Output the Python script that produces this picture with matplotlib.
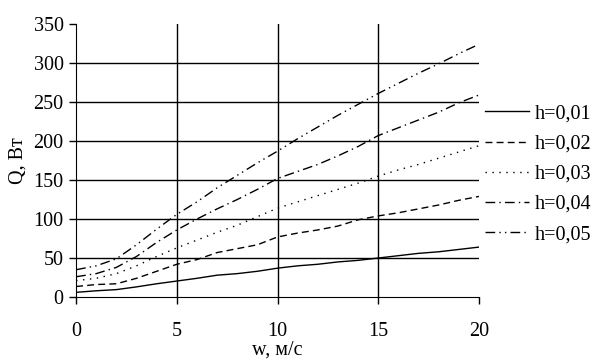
import matplotlib
matplotlib.use('Agg')
import matplotlib.pyplot as plt

# Data
w = list(range(0, 21))
q_001 = [6, 8, 9.5, 13, 17, 20.5, 24, 28, 30, 33, 37, 40, 42, 45, 47, 50, 53, 56, 58, 61, 64]
q_002 = [13.5, 16, 17, 24, 33, 42, 48, 57, 62, 67, 77, 82, 86, 91, 99, 104, 108, 113, 118, 124, 129]
q_003 = [21, 24, 30, 40, 52, 63, 73, 83, 92, 103, 114, 122, 130, 138, 146, 155, 163, 170, 178, 186, 194]
q_004 = [26, 30, 38, 52, 70, 86, 100, 113, 125, 138, 152, 161, 170, 181, 193, 207, 217, 227, 237, 249, 259]
q_005 = [35, 40, 49, 67, 87, 106, 122, 140, 156, 172, 187, 203, 218, 233, 247, 261, 274, 287, 299, 312, 324]
labels = ['h=0,01', 'h=0,02', 'h=0,03', 'h=0,04', 'h=0,05']

plt.rcParams['font.family'] = 'Liberation Serif'

fig = plt.figure(figsize=(6.04, 3.64), dpi=100)
ax = fig.add_axes([0.126, 0.184, 0.667, 0.750])

# grid lines (inner ticks only)
for yv in range(50, 350, 50):
    ax.axhline(yv, color='black', lw=1.0, zorder=1)
for xv in [5, 10, 15]:
    ax.axvline(xv, color='black', lw=1.0, zorder=1)

ax.plot(w, q_001, color='black', lw=1.0, ls='-', label=labels[0])
ax.plot(w, q_002, color='black', lw=1.0, ls=(0, (5, 3)), label=labels[1])
ax.plot(w, q_003, color='black', lw=1.0, ls=(0, (1, 4)), label=labels[2])
ax.plot(w, q_004, color='black', lw=1.0, ls=(0, (7, 3, 1, 3)), label=labels[3])
ax.plot(w, q_005, color='black', lw=1.0, ls=(0, (7, 3, 1, 3, 1, 3)), label=labels[4])

ax.set_xlim(0, 20)
ax.set_ylim(0, 350)
ax.set_xticks([0, 5, 10, 15, 20])
ax.set_yticks(range(0, 351, 50))
ax.spines['top'].set_visible(False)
ax.spines['right'].set_visible(False)
ax.tick_params(axis='both', direction='out', length=5, width=1.0, labelsize=14.5)
ax.tick_params(axis='x', pad=13)
ax.tick_params(axis='y', pad=4)

ax.set_xlabel('w, м/с', fontsize=14.5, labelpad=0)
ax.set_ylabel('Q, Вт', fontsize=14.5, labelpad=4)

ax.legend(loc='center left', bbox_to_anchor=(1.005, 0.45), frameon=False,
          fontsize=14.5, handlelength=2.2, handletextpad=0.25,
          labelspacing=0.55, borderaxespad=0.0, borderpad=0.2)

fig.savefig('out.png', dpi=100)
